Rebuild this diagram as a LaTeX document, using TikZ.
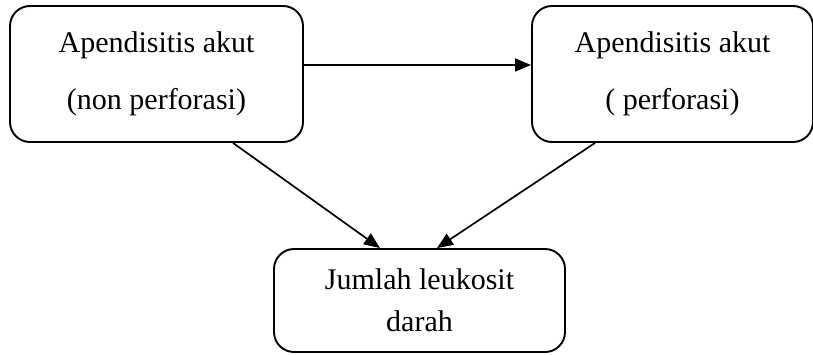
\documentclass[tikz,border=0pt]{standalone}
\usepackage{fontspec}
\setmainfont{Liberation Serif}
\usetikzlibrary{arrows.meta}
\begin{document}
\begin{tikzpicture}[x=1pt,y=-1pt,
  box/.style={draw,line width=1.9pt,rounded corners=20pt,inner sep=0pt,align=center},
  topbox/.style={box,font=\fontsize{30}{57}\selectfont},
  botbox/.style={box,font=\fontsize{30}{42}\selectfont},
  conn/.style={line width=1.7pt,-{Triangle[length=16pt,width=13pt]}}]
\useasboundingbox (0,0) rectangle (813,354);
\node[topbox,minimum width=293pt,minimum height=136pt] (a) at (156.5,74) {Apendisitis akut\\(non perforasi)};
\node[topbox,minimum width=281pt,minimum height=136pt] (b) at (672.5,74) {Apendisitis akut\\( perforasi)};
\node[botbox,minimum width=291pt,minimum height=103pt] (c) at (419.5,300.5) {Jumlah leukosit\\darah};
\draw[conn] (a.east|-0,65) -- (b.west|-0,65);
\draw[conn] (a.south-|233,0) -- (c.north-|380,0);
\draw[conn] (b.south-|595,0) -- (c.north-|437,0);
\end{tikzpicture}
\end{document}
